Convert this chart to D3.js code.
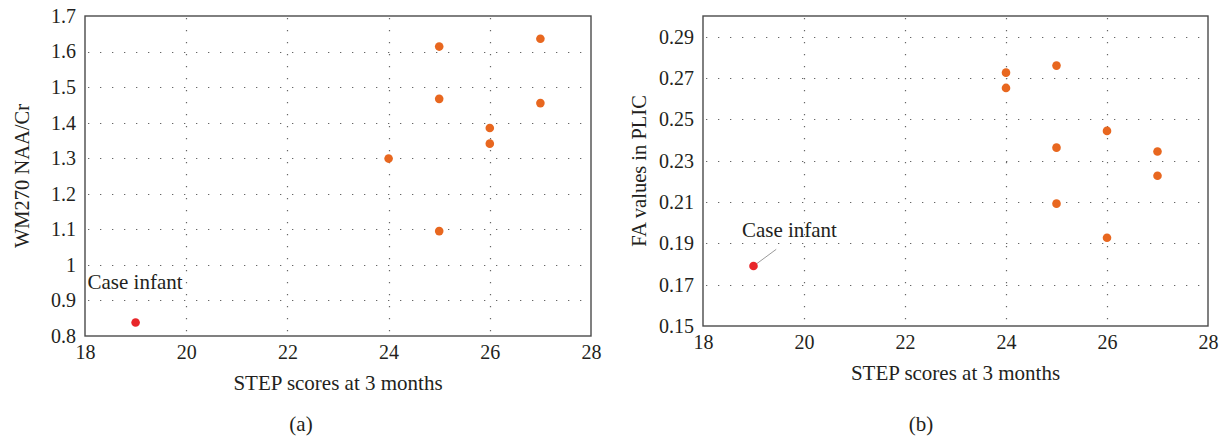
<!DOCTYPE html>
<html>
<head>
<meta charset="utf-8">
<script src="https://cdn.jsdelivr.net/npm/d3@7"></script>
<style>
  body { margin: 0; background: #fff; }
  svg text { font-family: 'Liberation Serif', 'Times New Roman', serif; fill: #231f20; }
</style>
</head>
<body>
<div id="chart"></div>
<script>
// #Data
const stepA = [25, 27, 25, 27, 26, 26, 24, 25];
const naaA = [1.614, 1.636, 1.467, 1.455, 1.385, 1.341, 1.299, 1.095];
const caseStepA = 19;
const caseNaa = 0.838;

const stepB = [24, 24, 25, 26, 25, 27, 27, 25, 26];
const faB = [0.2726, 0.2652, 0.2760, 0.2444, 0.2363, 0.2344, 0.2227, 0.2092, 0.1927];
const caseStepB = 19;
const caseFa = 0.179;

const xTicks = [18, 20, 22, 24, 26, 28];
const yTicksA = [0.8, 0.9, 1.0, 1.1, 1.2, 1.3, 1.4, 1.5, 1.6, 1.7];
const yTicksB = [0.15, 0.17, 0.19, 0.21, 0.23, 0.25, 0.27, 0.29];

const w = 1228;
const h = 436;
const orange = '#e8671f';
const red = '#e8262a';

const svg = d3.select('#chart')
              .append('svg')
              .attr('width', w)
              .attr('height', h);

svg.append('rect').attr('width', w).attr('height', h).attr('fill', '#fff');

// #Draw one panel
function drawPanel(cfg) {
  const xScale = d3.scaleLinear().domain([18, 28]).range([cfg.left, cfg.right]);
  const yScale = d3.scaleLinear().domain(cfg.yDomain).range([cfg.bottom, cfg.top]);
  const g = svg.append('g');

  // ##Dotted grid
  g.append('g')
   .selectAll('line')
   .data(cfg.yTicks.filter(d => d > cfg.yDomain[0] + 1e-9 && d < cfg.yDomain[1] - 1e-9))
   .enter()
   .append('line')
   .attr('x1', cfg.left)
   .attr('x2', cfg.right)
   .attr('y1', d => Math.round(yScale(d)) + 0.5)
   .attr('y2', d => Math.round(yScale(d)) + 0.5)
   .attr('stroke', '#666')
   .attr('stroke-width', 1.2)
   .attr('stroke-dasharray', '1.3,10.7')
   .attr('stroke-dashoffset', -3);
  g.append('g')
   .selectAll('line')
   .data(xTicks.slice(1, -1))
   .enter()
   .append('line')
   .attr('x1', d => Math.round(xScale(d)) + 0.5)
   .attr('x2', d => Math.round(xScale(d)) + 0.5)
   .attr('y1', cfg.top)
   .attr('y2', cfg.bottom)
   .attr('stroke', '#666')
   .attr('stroke-width', 1.2)
   .attr('stroke-dasharray', '1.3,10.7')
   .attr('stroke-dashoffset', -2);

  // ##Axes
  const xAxis = d3.axisBottom(xScale).tickValues(xTicks).tickSize(0).tickPadding(9).tickFormat(d3.format('d'));
  const yAxis = d3.axisLeft(yScale).tickValues(cfg.yTicks).tickSize(0).tickPadding(9).tickFormat(cfg.fmt);
  const gx = g.append('g')
              .attr('transform', 'translate(0,' + cfg.bottom + ')')
              .call(xAxis);
  const gy = g.append('g')
              .attr('transform', 'translate(' + cfg.left + ',0)')
              .call(yAxis);
  [gx, gy].forEach(a => {
    a.select('.domain').remove();
    a.selectAll('text')
     .style('font-family', "'Liberation Serif', serif")
     .style('font-size', '20px')
     .attr('fill', '#231f20');
  });

  // ##Frame
  g.append('rect')
   .attr('x', cfg.left)
   .attr('y', cfg.top)
   .attr('width', cfg.right - cfg.left)
   .attr('height', cfg.bottom - cfg.top)
   .attr('fill', 'none')
   .attr('stroke', '#4a4a4a')
   .attr('stroke-width', 1.4);

  // ##Axis titles
  g.append('text')
   .attr('x', (cfg.left + cfg.right) / 2)
   .attr('y', cfg.bottom + 54)
   .attr('text-anchor', 'middle')
   .style('font-size', '21px')
   .text('STEP scores at 3 months');
  g.append('text')
   .attr('transform', 'translate(' + cfg.yTitleX + ',' + (cfg.top + cfg.bottom) / 2 + ') rotate(-90)')
   .attr('text-anchor', 'middle')
   .style('font-size', '20.5px')
   .text(cfg.yTitle);
  g.append('text')
   .attr('x', cfg.capX)
   .attr('y', 431)
   .attr('text-anchor', 'middle')
   .style('font-size', '21px')
   .text(cfg.caption);

  // ##Points
  g.append('g')
   .selectAll('circle')
   .data(cfg.xs.map((x, i) => [x, cfg.ys[i]]))
   .enter()
   .append('circle')
   .attr('cx', d => xScale(d[0]))
   .attr('cy', d => yScale(d[1]))
   .attr('r', 4.3)
   .attr('fill', orange);

  // ##Case infant
  if (cfg.leader) {
    g.append('line')
     .attr('x1', xScale(cfg.caseX))
     .attr('y1', yScale(cfg.caseY))
     .attr('x2', xScale(cfg.leader[0]))
     .attr('y2', yScale(cfg.leader[1]))
     .attr('stroke', '#9a9a9a')
     .attr('stroke-width', 1);
  }
  g.append('circle')
   .attr('cx', xScale(cfg.caseX))
   .attr('cy', yScale(cfg.caseY))
   .attr('r', 4.3)
   .attr('fill', red);
  g.append('text')
   .attr('x', xScale(cfg.label[0]))
   .attr('y', yScale(cfg.label[1]))
   .style('font-size', '21px')
   .text('Case infant');
}

drawPanel({
  left: 85, right: 591, top: 16, bottom: 336,
  yDomain: [0.8, 1.7], yTicks: yTicksA,
  fmt: d => d === 1 ? '1' : d3.format('.1f')(d),
  yTitle: 'WM270 NAA/Cr', yTitleX: 29,
  caption: '(a)', capX: 301,
  xs: stepA, ys: naaA,
  caseX: caseStepA, caseY: caseNaa,
  label: [18.05, 0.932]
});

drawPanel({
  left: 703, right: 1208, top: 16, bottom: 326,
  yDomain: [0.15, 0.30], yTicks: yTicksB,
  fmt: d3.format('.2f'),
  yTitle: 'FA values in PLIC', yTitleX: 646,
  caption: '(b)', capX: 921,
  xs: stepB, ys: faB,
  caseX: caseStepB, caseY: caseFa,
  label: [18.77, 0.1932],
  leader: [19.45, 0.1871]
});
</script>
</body>
</html>
